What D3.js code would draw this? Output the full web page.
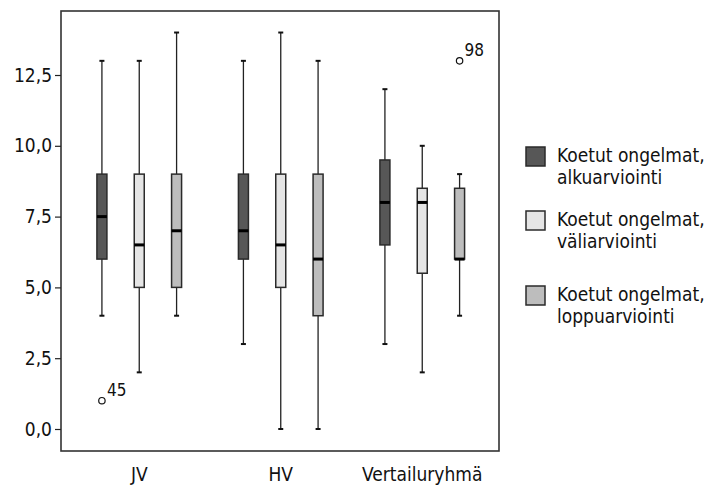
<!DOCTYPE html>
<html><head><meta charset="utf-8">
<script src="https://cdn.jsdelivr.net/npm/d3@7"></script>
<style>
body{margin:0;background:#fff;}
svg text{font-family:"DejaVu Sans Condensed","DejaVu Sans",sans-serif;font-stretch:condensed;fill:#111;}
</style></head>
<body><svg id="c" width="711" height="487"></svg>
<script>
const groups = ["JV", "HV", "Vertailuryhmä"];
const seriesNames = ["Koetut ongelmat, alkuarviointi", "Koetut ongelmat, väliarviointi", "Koetut ongelmat, loppuarviointi"];
const legendLines = [["Koetut ongelmat,", "alkuarviointi"], ["Koetut ongelmat,", "väliarviointi"], ["Koetut ongelmat,", "loppuarviointi"]];
const colors = ["#575757", "#e5e5e5", "#bdbdbd"];
// [min, q1, median, q3, max] per group per series
const alkuarviointi = [[4, 6, 7.5, 9, 13], [3, 6, 7, 9, 13], [3, 6.5, 8, 9.5, 12]];
const valiarviointi = [[2, 5, 6.5, 9, 13], [0, 5, 6.5, 9, 14], [2, 5.5, 8, 8.5, 10]];
const loppuarviointi = [[4, 5, 7, 9, 14], [0, 4, 6, 9, 13], [4, 6, 6, 8.5, 9]];
const outliers = [
  {group: "JV", series: 0, value: 1, label: "45"},
  {group: "Vertailuryhmä", series: 2, value: 13, label: "98"}
];
const yTicks = [0, 2.5, 5, 7.5, 10, 12.5];

const seriesData = [alkuarviointi, valiarviointi, loppuarviointi];
const svg = d3.select("#c");
const frame = {l: 61, t: 11, r: 499, b: 451};

const y = d3.scaleLinear().domain([-0.777, 14.76]).range([frame.b, frame.t]);
const x = d3.scaleBand().domain(groups).range([68.5, 493]);
const xs = d3.scaleBand().domain([0, 1, 2]).range([-56, 56]).paddingInner(0).paddingOuter(0);
const cx = (g, s) => x(g) + x.bandwidth() / 2 + xs(s) + xs.bandwidth() / 2;
const bw = 10, capW = 5;
const fs = "19px";

const fmt = v => d3.format(".1f")(v).replace(".", ",");

// frame
svg.append("rect").attr("x", frame.l).attr("y", frame.t)
  .attr("width", frame.r - frame.l).attr("height", frame.b - frame.t)
  .attr("fill", "none").attr("stroke", "#333").attr("stroke-width", 1.6);

// y axis
const yAxis = d3.axisLeft(y).tickValues(yTicks).tickFormat(fmt).tickSize(6).tickPadding(3);
const ga = svg.append("g").attr("transform", `translate(${frame.l},0)`).call(yAxis);
ga.select(".domain").remove();
ga.selectAll(".tick line").attr("stroke", "#222").attr("stroke-width", 1.2);
ga.selectAll(".tick text").style("font-size", fs).attr("fill", "#111");

// x labels
const xAxis = d3.axisBottom(x).tickSize(0).tickPadding(17);
const gx = svg.append("g").attr("transform", `translate(0,${frame.b})`).call(xAxis);
gx.select(".domain").remove();
gx.selectAll(".tick text").style("font-size", fs).attr("fill", "#111");

// boxes
groups.forEach((g, gi) => {
  seriesData.forEach((sd, si) => {
    const [mn, q1, md, q3, mx] = sd[gi];
    const c = cx(g, si);
    const gg = svg.append("g");
    gg.append("line").attr("x1", c).attr("x2", c).attr("y1", y(mx)).attr("y2", y(q3))
      .attr("stroke", "#222").attr("stroke-width", 1.3);
    gg.append("line").attr("x1", c).attr("x2", c).attr("y1", y(q1)).attr("y2", y(mn))
      .attr("stroke", "#222").attr("stroke-width", 1.3);
    [mx, mn].forEach(v => gg.append("line").attr("x1", c - capW / 2).attr("x2", c + capW / 2)
      .attr("y1", y(v)).attr("y2", y(v)).attr("stroke", "#111").attr("stroke-width", 2));
    gg.append("rect").attr("x", c - bw / 2).attr("y", y(q3)).attr("width", bw)
      .attr("height", y(q1) - y(q3)).attr("fill", colors[si]).attr("stroke", "#2a2a2a").attr("stroke-width", 1.5);
    gg.append("line").attr("x1", c - bw / 2).attr("x2", c + bw / 2).attr("y1", y(md)).attr("y2", y(md))
      .attr("stroke", "#000").attr("stroke-width", 3);
  });
});

// outliers
outliers.forEach(o => {
  const c = cx(o.group, o.series);
  svg.append("circle").attr("cx", c).attr("cy", y(o.value)).attr("r", 3.2)
    .attr("fill", "#fff").attr("stroke", "#111").attr("stroke-width", 1.2);
  svg.append("text").attr("x", c + 5).attr("y", y(o.value) - 5).text(o.label).style("font-size", "17px");
});

// legend
const legTops = [147, 211, 286];
legendLines.forEach((lines, i) => {
  const g = svg.append("g").attr("transform", `translate(526,${legTops[i]})`);
  g.append("rect").attr("x", 0).attr("y", 0).attr("width", 19).attr("height", 19)
    .attr("fill", colors[i]).attr("stroke", "#2a2a2a").attr("stroke-width", 1.5);
  lines.forEach((t, j) => g.append("text").attr("x", 31).attr("y", 15 + j * 22).text(t).style("font-size", fs));
});
</script></body></html>
